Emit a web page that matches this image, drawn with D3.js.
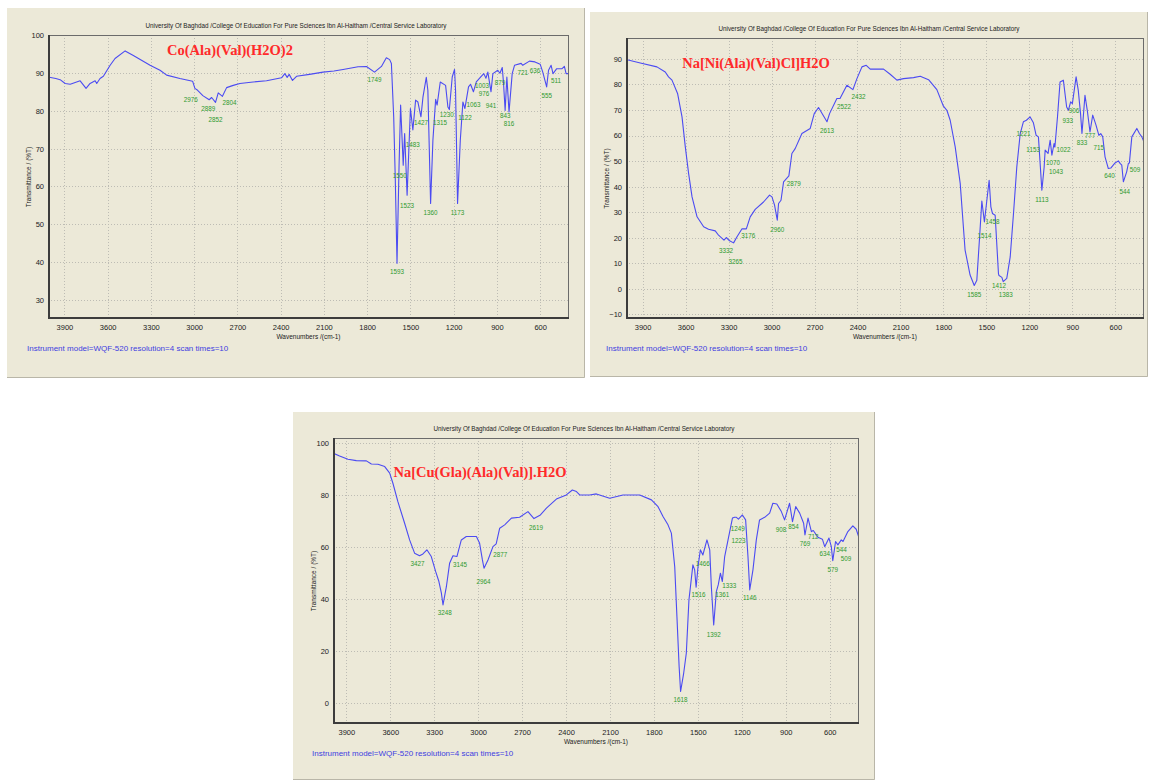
<!DOCTYPE html>
<html>
<head>
<meta charset="utf-8">
<script src="https://cdn.jsdelivr.net/npm/d3@7"></script>
<style>
  body { margin: 0; background: #ffffff; }
  svg { display: block; }
</style>
</head>
<body>
<script>
// ---------- shared axis values ----------
const wnTicks = [3900, 3600, 3300, 3000, 2700, 2400, 2100, 1800, 1500, 1200, 900, 600];
const headerText = "University Of Baghdad /College Of Education For Pure Sciences Ibn Al-Haitham /Central Service Laboratory";
const instrumentText = "Instrument model=WQF-520 resolution=4 scan times=10";

// ---------- Co(Ala)(Val)(H2O)2 ----------
const coWn = [4014,3960,3930,3895,3860,3791,3750,3722,3687,3676,3653,3630,3583,3549,3479,3422,3306,3237,3191,3099,3011,2995,2976,2940,2896,2879,2852,2833,2804,2775,2729,2683,2591,2498,2394,2371,2355,2341,2318,2290,2200,2106,2030,1967,1863,1805,1749,1701,1667,1644,1632,1616,1605,1593,1579,1568,1550,1540,1523,1500,1483,1464,1448,1427,1413,1390,1379,1360,1344,1325,1315,1293,1256,1240,1230,1210,1194,1187,1173,1154,1136,1122,1097,1083,1063,1043,1009,991,976,963,941,928,894,879,863,854,843,831,816,794,778,732,721,674,636,600,582,555,542,524,511,485,448,432,420,402,400];
const coT  = [88.9,88.5,88.2,87.2,87.0,87.9,85.9,87.2,87.9,87.2,88.5,89.1,92.0,93.8,95.8,94.6,92.0,90.7,89.4,88.5,87.8,85.9,85.4,84.0,82.9,83.5,82.2,84.7,83.8,86.1,86.7,87.2,87.6,87.9,88.7,89.8,88.8,89.6,88.0,89.1,89.6,90.2,90.5,90.9,91.6,91.7,90.2,91.7,94.0,93.5,92.5,78.4,62.0,39.7,65.2,81.5,65.6,74.0,57.7,80.6,74.9,82.8,82.3,78.4,83.6,88.8,85.4,55.5,72.2,83.0,81.5,87.6,86.7,81.0,80.3,88.9,90.9,85.4,55.5,72.2,82.3,80.6,86.3,87.0,85.0,87.6,89.1,89.8,88.6,90.2,85.0,89.8,90.7,89.9,91.4,87.2,80.1,88.9,79.7,89.8,92.0,92.5,92.0,93.1,92.9,92.3,90.2,86.3,90.7,92.0,89.8,91.1,91.1,91.7,89.8,89.8,25];
const coPeaks = [2976,2889,2852,2804,1749,1593,1550,1523,1483,1427,1315,1360,1230,1173,1122,1063,1003,976,941,879,843,816,721,636,555,511];
const coPeakT = [83.0,80.6,77.8,82.2,88.2,37.5,63.0,55.1,71.1,76.9,76.9,53.0,79.1,53.0,78.2,81.6,86.6,84.5,81.4,87.5,78.8,76.6,90.2,90.7,83.9,87.9];
const coYTicks = [30, 40, 50, 60, 70, 80, 90, 100];

// ---------- Na[Ni(Ala)(Val)Cl]H2O ----------
const niWn = [4016,3916,3800,3742,3719,3695,3656,3625,3602,3579,3555,3520,3474,3440,3393,3370,3332,3316,3293,3265,3241,3206,3176,3149,3114,3056,3014,2997,2979,2960,2951,2934,2916,2879,2858,2835,2788,2730,2702,2672,2613,2595,2544,2522,2474,2432,2404,2369,2339,2311,2218,2172,2125,2079,2009,1962,1904,1846,1800,1776,1753,1718,1683,1649,1614,1585,1567,1549,1532,1514,1497,1481,1469,1458,1439,1416,1412,1392,1383,1358,1334,1311,1288,1264,1242,1221,1195,1172,1153,1137,1113,1097,1090,1070,1055,1043,1028,1022,1004,986,963,940,928,912,900,874,859,843,833,812,796,777,758,735,715,702,688,672,649,632,602,579,567,555,544,521,509,502,485,450,432,415,400];
const niT  = [89.8,88.4,86.9,84.9,83.0,81.7,76.5,67.3,55.6,45.2,36.0,28.2,24.3,23.3,22.7,21.0,19.1,20.1,18.8,18.0,20.4,23.5,23.5,28.2,31.1,34.0,36.7,36.0,32.8,26.9,33.4,34.7,41.9,44.2,53.0,54.9,60.8,62.8,68.6,71.0,65.4,68.6,74.5,74.5,79.7,78.0,82.3,86.9,87.5,86.0,86.0,84.0,81.7,82.3,82.7,83.2,81.9,78.0,71.5,69.9,66.0,55.6,41.3,15.2,5.4,1.3,3.4,19.1,34.4,26.2,34.7,42.5,32.1,29.5,28.8,6.0,5.2,4.5,2.8,4.1,12.5,29.5,47.7,60.8,65.4,66.0,67.3,65.0,60.1,59.5,38.6,47.7,54.3,53.0,58.2,52.3,56.9,55.5,67.3,81.0,81.7,71.2,69.9,73.2,72.5,83.0,77.8,68.6,60.8,75.8,69.9,61.4,68.0,64.1,60.1,60.8,59.5,51.7,47.1,47.3,49.3,50.1,49.1,48.4,41.9,45.8,49.1,49.3,59.5,62.8,60.8,59.5,57.5];
const niPeaks = [3332,3265,3176,2960,2879,2613,2522,2432,1221,1153,1113,1070,1043,1022,933,906,833,777,715,640,544,509,1585,1514,1458,1412,1383];
const niPeakT = [14.9,10.6,21.0,23.4,41.3,62.1,71.2,75.4,61.0,54.7,35.1,49.5,45.8,54.7,66.0,69.7,57.3,60.1,55.3,44.2,38.2,46.8,-2.2,21.0,26.2,1.2,-2.2];
const niYTicks = [-10, 0, 10, 20, 30, 40, 50, 60, 70, 80, 90];

// ---------- Na[Cu(Gla)(Ala)(Val)].H2O ----------
const cuWn = [3991,3946,3889,3832,3763,3729,3684,3638,3604,3582,3548,3502,3468,3434,3400,3377,3350,3320,3290,3268,3251,3240,3217,3195,3172,3145,3115,3081,3012,2990,2971,2960,2933,2899,2877,2853,2819,2773,2717,2660,2619,2575,2534,2466,2398,2357,2329,2307,2239,2193,2102,2011,1897,1817,1772,1738,1704,1681,1658,1643,1628,1618,1597,1579,1561,1534,1522,1512,1499,1483,1466,1438,1419,1408,1392,1374,1361,1346,1333,1317,1294,1264,1249,1237,1223,1196,1174,1158,1146,1124,1101,1079,1044,1010,988,961,930,908,874,854,832,805,778,769,748,725,712,680,650,634,605,589,579,560,544,521,509,476,442,419,401];
const cuT  = [96.2,95.1,93.8,93.3,93.2,92.0,91.9,91.0,88.5,84.6,77.5,69.2,62.8,57.7,56.7,57.4,59.0,56.4,50.6,46.8,42.3,37.8,44.8,53.8,56.7,56.4,62.8,64.1,64.1,61.5,55.1,51.9,55.1,60.2,61.3,67.3,68.6,71.2,71.5,73.7,71.0,72.4,75.0,78.5,80.1,82.0,81.4,80.1,80.1,80.5,78.8,80.1,80.1,78.2,75.6,71.8,68.6,65.4,52.5,33.3,14.1,4.5,11.5,19.2,39.7,53.2,51.3,44.6,52.5,59.0,57.0,62.8,59.0,44.8,30.1,42.9,45.5,50.0,46.8,56.4,62.8,71.2,71.5,71.5,70.8,72.4,70.5,56.4,43.6,51.3,62.8,70.5,71.5,73.1,76.9,76.6,73.7,70.5,76.9,69.8,75.6,73.1,69.2,64.7,71.2,66.0,66.4,63.8,63.1,60.2,63.5,60.2,54.8,62.2,60.9,62.8,62.2,66.0,68.2,66.9,63.8];
const cuPeaks = [3427,3248,3145,2964,2877,2619,1618,1516,1466,1392,1361,1333,1249,1223,1146,908,854,769,712,634,579,544,509];
const cuPeakT = [53.6,35.0,53.2,46.9,57.3,67.5,1.5,42.0,53.8,26.3,41.7,45.2,67.3,62.5,40.8,66.9,67.9,61.3,64.3,57.7,51.5,59.0,55.5];
const cuYTicks = [0, 20, 40, 60, 80, 100];

// ---------- panel layout ----------
// labelShift: horizontal pixel nudges that keep crowded peak labels apart
const panels = [
  { name: "co", title: "Co(Ala)(Val)(H2O)2", wn: coWn, t: coT, peaks: coPeaks, peakT: coPeakT, yTicks: coYTicks,
    xDomain: [4014, 400], yDomain: [25, 100],
    box: { x: 7, y: 8, w: 578, h: 370 }, plot: { l: 48, t: 35, r: 569, b: 319 },
    titleAt: [230, 50], yLabelX: 28, instrumentX: 27,
    labelShift: { 2976: -7, 2889: -2, 2804: 7, 1550: -3.5, 1315: 3, 1230: -2.5, 976: -2, 511: 3 } },
  { name: "ni", title: "Na[Ni(Ala)(Val)Cl]H2O", wn: niWn, t: niT, peaks: niPeaks, peakT: niPeakT, yTicks: niYTicks,
    xDomain: [4016, 400], yDomain: [-11.8, 98.2],
    box: { x: 590, y: 12, w: 558, h: 365 }, plot: { l: 626, t: 38, r: 1144, b: 319 },
    titleAt: [756, 63], yLabelX: 606, instrumentX: 606,
    labelShift: { 3332: 2, 3265: 2, 3176: 2, 2879: 5, 2522: 4, 2432: 5.5, 1221: -3, 1153: -3, 1070: 5, 1043: 4, 1022: 8.5, 906: 2.5, 544: 1.5, 509: 6.5, 1383: 2.5 } },
  { name: "cu", title: "Na[Cu(Gla)(Ala)(Val)].H2O", wn: cuWn, t: cuT, peaks: cuPeaks, peakT: cuPeakT, yTicks: cuYTicks,
    xDomain: [3991, 400], yDomain: [-8, 102],
    box: { x: 293, y: 412, w: 582, h: 368 }, plot: { l: 333, t: 438, r: 859, b: 724 },
    titleAt: [480, 472], yLabelX: 313, instrumentX: 312,
    labelShift: { 3427: 2, 3248: 3, 3145: 3, 2877: 4, 2619: 2, 1516: 3, 1361: 4, 1333: 7, 1249: 3, 908: -3.5, 854: 1, 544: 3.5, 509: 3 } }
];

const svg = d3.select("body").append("svg")
  .attr("width", 1150).attr("height", 780);

const sans = "Arial, 'Liberation Sans', sans-serif";

panels.forEach(p => {
  const g = svg.append("g");
  const { l, t, r, b } = p.plot;

  // panel background
  g.append("rect")
    .attr("x", p.box.x).attr("y", p.box.y)
    .attr("width", p.box.w).attr("height", p.box.h)
    .attr("fill", "#ece9d8");
  g.append("path")
    .attr("d", `M${p.box.x},${p.box.y + p.box.h - 0.5}H${p.box.x + p.box.w - 0.5}V${p.box.y}`)
    .attr("fill", "none").attr("stroke", "#b9b6a8").attr("stroke-width", 1);

  const x = d3.scaleLinear().domain(p.xDomain).range([l, r]);
  const y = d3.scaleLinear().domain(p.yDomain).range([b, t]);

  // dotted grid
  const grid = g.append("g").attr("stroke", "#bdbcb4").attr("stroke-dasharray", "1,2").attr("stroke-width", 1);
  wnTicks.forEach(v => {
    grid.append("line").attr("x1", Math.round(x(v)) + 0.5).attr("x2", Math.round(x(v)) + 0.5)
      .attr("y1", t).attr("y2", b);
  });
  p.yTicks.forEach(v => {
    if (y(v) > t + 2) {
      grid.append("line").attr("y1", Math.round(y(v)) + 0.5).attr("y2", Math.round(y(v)) + 0.5)
        .attr("x1", l).attr("x2", r);
    }
  });

  // axes with labels only
  const xAxis = d3.axisBottom(x).tickValues(wnTicks).tickSize(0).tickPadding(6).tickFormat(d3.format("d"));
  const yAxis = d3.axisLeft(y).tickValues(p.yTicks).tickSize(0).tickPadding(4).tickFormat(d3.format("d"));
  const gx = g.append("g").attr("transform", `translate(0,${b})`).call(xAxis);
  const gy = g.append("g").attr("transform", `translate(${l},0)`).call(yAxis);
  [gx, gy].forEach(a => {
    a.select(".domain").remove();
    a.selectAll("text").attr("font-family", sans).attr("font-size", 7.5).attr("fill", "#222");
  });

  // spectrum
  const clipId = "clip-" + p.name;
  g.append("clipPath").attr("id", clipId)
    .append("rect").attr("x", l).attr("y", t).attr("width", r - l).attr("height", b - t);
  const pts = p.wn.map((w, i) => [w, p.t[i]]);
  g.append("path")
    .datum(pts)
    .attr("clip-path", `url(#${clipId})`)
    .attr("fill", "none")
    .attr("stroke", "#4b4bf2")
    .attr("stroke-width", 1.1)
    .attr("stroke-linejoin", "round")
    .attr("d", d3.line().x(d => x(d[0])).y(d => y(d[1])));

  // frame: heavier left and bottom edges
  g.append("rect").attr("x", l + 0.5).attr("y", t + 0.5)
    .attr("width", r - l - 1).attr("height", b - t - 1)
    .attr("fill", "none").attr("stroke", "#6b6b6b").attr("stroke-width", 1);
  g.append("path")
    .attr("d", `M${l + 1},${t}V${b - 1}H${r}`)
    .attr("fill", "none").attr("stroke", "#3c3c3c").attr("stroke-width", 2);

  // peak annotations
  g.append("g").selectAll("text")
    .data(p.peaks.map((w, i) => [w, p.peakT[i]]))
    .join("text")
    .attr("x", d => x(d[0]) + (p.labelShift[d[0]] || 0))
    .attr("y", d => y(d[1]))
    .attr("text-anchor", "middle")
    .attr("dominant-baseline", "central")
    .attr("font-family", sans)
    .attr("font-size", 6.3)
    .attr("fill", "#2f9a2f")
    .text(d => d[0]);

  // header line
  g.append("text")
    .attr("x", p.box.x + p.box.w / 2).attr("y", t - 7)
    .attr("text-anchor", "middle")
    .attr("font-family", sans).attr("font-size", 6.3).attr("fill", "#222")
    .text(headerText);

  // compound name
  g.append("text")
    .attr("x", p.titleAt[0]).attr("y", p.titleAt[1])
    .attr("text-anchor", "middle").attr("dominant-baseline", "central")
    .attr("font-family", "'Times New Roman', 'Liberation Serif', serif")
    .attr("font-weight", "bold").attr("font-size", 14.5).attr("fill", "#ff2a2a")
    .text(p.title);

  // axis titles
  g.append("text")
    .attr("x", (l + r) / 2).attr("y", b + 17.5)
    .attr("text-anchor", "middle").attr("dominant-baseline", "central")
    .attr("font-family", sans).attr("font-size", 6.5).attr("fill", "#222")
    .text("Wavenumbers /(cm-1)");
  g.append("text")
    .attr("transform", `translate(${p.yLabelX},${(t + b) / 2}) rotate(-90)`)
    .attr("text-anchor", "middle").attr("dominant-baseline", "central")
    .attr("font-family", sans).attr("font-size", 6.5).attr("fill", "#222")
    .text("Transmittance / (%T)");

  // instrument footer
  g.append("text")
    .attr("x", p.instrumentX).attr("y", b + 29)
    .attr("dominant-baseline", "central")
    .attr("font-family", sans).attr("font-size", 8).attr("fill", "#4040e0")
    .text(instrumentText);
});
</script>
</body>
</html>
